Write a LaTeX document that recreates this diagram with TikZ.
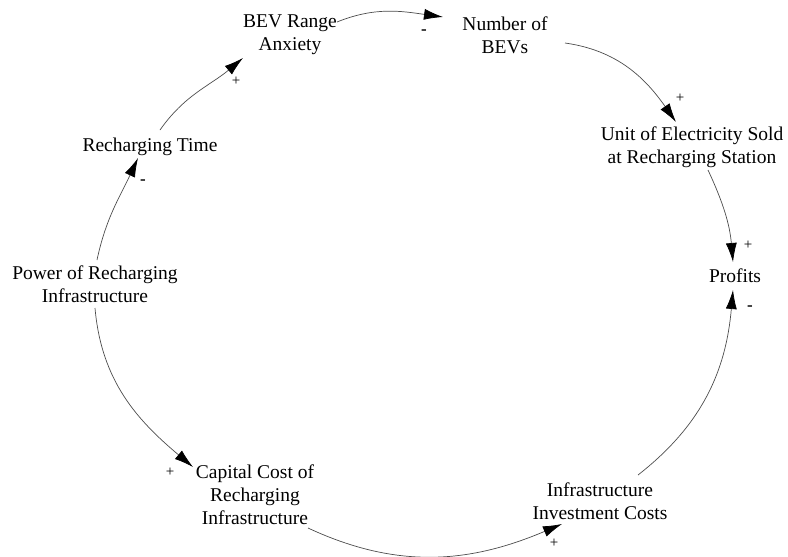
\documentclass[tikz,border=0pt]{standalone}
\usepackage{fontspec}
\setmainfont{Liberation Serif}
\usetikzlibrary{arrows.meta,calc}
\begin{document}
\begin{tikzpicture}[x=1pt,y=1pt,
  var/.style={align=center,inner sep=0pt,font=\fontsize{19.5}{23}\selectfont},
  link/.style={draw=black!70,line width=0.7pt,
    -{Latex[length=19pt,width=11pt,color=black,fill=black]}},
  sign/.style={inner sep=0pt,font=\fontsize{15}{15}\selectfont},
  neg/.style={inner sep=0pt,font=\fontsize{17}{17}\selectfont\bfseries}]
\useasboundingbox (0,0) rectangle (788,-557);
% variables of the loop
\node[var] (anx)  at (290,-35)  {BEV Range\\Anxiety};
\node[var] (nbev) at (505,-35)  {Number of\\BEVs};
\node[var] (unit) at (692,-147) {Unit of Electricity Sold\\at Recharging Station};
\node[var] (prof) at (735,-276) {Profits};
\node[var] (inv)  at (600,-501) {Infrastructure\\Investment Costs};
\node[var] (cap)  at (255,-495) {Capital Cost of\\Recharging\\Infrastructure};
\node[var] (pow)  at (95,-284)  {Power of Recharging\\Infrastructure};
\node[var] (rt)   at (150,-147) {Recharging Time};
% causal links
\draw[link] ($(anx)+(47,13)$)  to[out=22,in=172]  ($(nbev)+(-62,18)$);
\draw[link] ($(nbev)+(60,-8)$) to[out=-8,in=125]  ($(unit)+(-16,25)$);
\draw[link] ($(unit)+(16,-23)$) to[out=-65,in=95] ($(prof)+(-2,14)$);
\draw[link] ($(inv)+(38,26)$)  to[out=38,in=-95]  ($(prof)+(-2,-14)$);
\draw[link] ($(cap)+(53,-33)$) to[out=-25,in=203]  ($(inv)+(-38,-23)$);
\draw[link] ($(pow)+(0,-24)$)  to[out=-85,in=140]  ($(cap)+(-62,28)$);
\draw[link] ($(pow)+(2,24)$)   to[out=78,in=-115]  ($(rt)+(-12,-11)$);
\draw[link] ($(rt)+(10,17)$)   to[out=55,in=-140]  ($(anx)+(-47,-23)$);
% polarity signs
\node[neg]  (s1) at (424,-32)  {-};
\node[sign] (s2) at (680,-98)  {+};
\node[sign] (s3) at (748,-245) {+};
\node[neg]  (s4) at (750,-308) {-};
\node[sign] (s5) at (554,-543) {+};
\node[sign] (s6) at (170,-472) {+};
\node[neg]  (s7) at (143,-182) {-};
\node[sign] (s8) at (236,-81)  {+};
\end{tikzpicture}
\end{document}
